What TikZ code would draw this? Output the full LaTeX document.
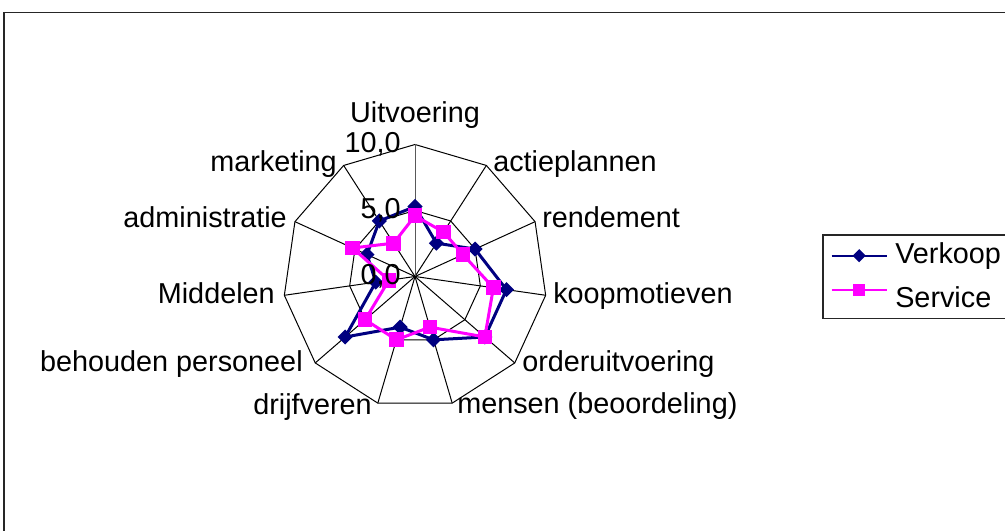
\documentclass[tikz,border=0pt]{standalone}
\usepackage{fontspec}
\setmainfont{Liberation Sans}
\usepackage{tikz}
\usetikzlibrary{shapes.geometric,calc}
\usepackage{xcolor}
\definecolor{verkoopblue}{HTML}{000080}
\definecolor{servicepink}{HTML}{FF00FF}

\begin{document}
\begin{tikzpicture}
        [   x = 0.75pt
        ,   y = 0.75pt
        ,   every node/.style =
            {   inner sep = 0pt
            ,   font = \fontsize{21.6}{26}\selectfont
            }
        ,   grid/.style = {black, line width = 0.75pt}
        ,   verkoop/.style = {verkoopblue, line width = 2.25pt, line join = round}
        ,   service/.style = {servicepink, line width = 2.25pt, line join = round}
        ,   vmark/.style = {diamond, fill = verkoopblue, minimum size = 11.5pt}
        ,   smark/.style = {rectangle, fill = servicepink, minimum size = 11pt}
        ,   left label/.style = {anchor = base west}
        ,   right label/.style = {anchor = base east}
        ]
        \useasboundingbox (0,0) rectangle (1005,531);
        % chart frame
        \draw[line width = 0.9pt, black!85] (4,0) -- (4,518.7) -- (1005,518.7);

        \begin{scope}[shift = {(415,254.5)}]
            \coordinate (c) at (0,0);
            \foreach \k in {0,...,10}
            {   \coordinate (o\k) at ({90-\k*360/11}:132);
                \coordinate (m\k) at ({90-\k*360/11}:66);
                \draw[grid] (c) -- (o\k);
            }
            \draw[grid] (o0) \foreach \k in {1,...,10} {-- (o\k)} -- cycle;
            \draw[grid] (m0) \foreach \k in {1,...,10} {-- (m\k)} -- cycle;
            \draw[black!65, line width = 0.75pt] (c) -- (o0);

            % series
            \foreach \val [count = \k from 0] in {5.3,3,5,7,7,5,4,7,3,4,5}
            {   \coordinate (v\k) at ({90-\k*360/11}:{13.2*\val});
            }
            \foreach \val [count = \k from 0] in {4.6,4,4,6,7,4,5,5,2,5.2,3}
            {   \coordinate (s\k) at ({90-\k*360/11}:{13.2*\val});
            }
            \draw[verkoop] (v0) \foreach \k in {1,...,10} {-- (v\k)} -- cycle;
            \foreach \k in {0,...,10}
            {   \node[vmark] (vm\k) at (v\k) {};
            }
            \draw[service] (s0) \foreach \k in {1,...,10} {-- (s\k)} -- cycle;
            \foreach \k in {0,...,10}
            {   \node[smark] (sm\k) at (s\k) {};
            }
        \end{scope}

        % value axis
        \node[right label] (t10) at (401,378) {10,0};
        \node[right label] (t5) at (401,312) {5,0};
        \node[right label] (t0) at (401,246) {0,0};

        % category labels
        \node[anchor = base] (uitvoering) at (415,408) {Uitvoering};
        \node[left label] (actieplannen) at (493,359.3) {actieplannen};
        \node[left label] (rendement) at (542,303.7) {rendement};
        \node[left label] (koopmotieven) at (553,227) {koopmotieven};
        \node[left label] (orderuitvoering) at (522,159.3) {orderuitvoering};
        \node[left label] (mensen) at (457,117.7) {mensen (beoordeling)};
        \node[right label] (drijfveren) at (372,116) {drijfveren};
        \node[right label] (behouden) at (303,159.3) {behouden personeel};
        \node[right label] (middelen) at (275,227.7) {Middelen};
        \node[right label] (administratie) at (287,303.3) {administratie};
        \node[right label] (marketing) at (337,359.3) {marketing};

        % legend
        \draw[line width = 0.9pt, black!85] (1005,296) -- (823,296) -- (823,212.3) -- (1005,212.3);
        \coordinate (lv1) at (831.7,275.3);
        \coordinate (lv2) at (886.7,275.3);
        \coordinate (ls1) at (831.7,241);
        \coordinate (ls2) at (886.7,241);
        \draw[verkoopblue, line width = 1.5pt] (lv1) -- (lv2);
        \node[vmark, minimum size = 10pt] (lvm) at ($(lv1)!0.5!(lv2)$) {};
        \draw[servicepink, line width = 1.5pt] (ls1) -- (ls2);
        \node[smark, minimum size = 9pt] (lsm) at ($(ls1)!0.5!(ls2)$) {};
        \node[left label] (verkoop) at (895,267.7) {Verkoop};
        \node[left label] (service) at (895,223.7) {Service};
\end{tikzpicture}
\end{document}
